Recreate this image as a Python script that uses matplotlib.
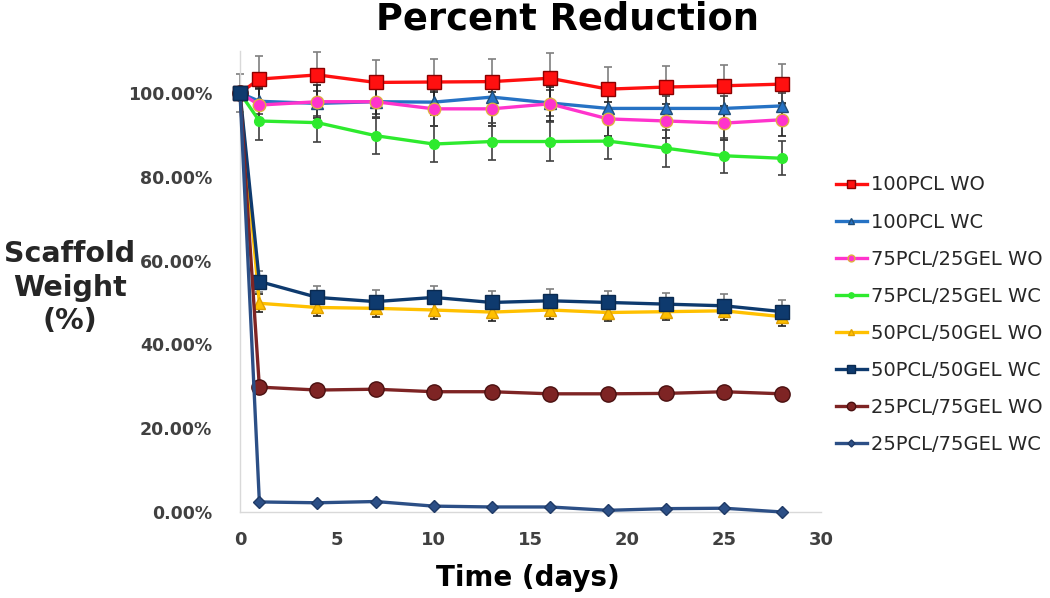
import matplotlib
matplotlib.use("Agg")
import matplotlib.pyplot as plt
import numpy as np

days = [0, 1, 4, 7, 10, 13, 16, 19, 22, 25, 28]

labels = ["100PCL WO", "100PCL WC", "75PCL/25GEL WO", "75PCL/25GEL WC",
          "50PCL/50GEL WO", "50PCL/50GEL WC", "25PCL/75GEL WO", "25PCL/75GEL WC"]

pcl100_wo = [100, 103.3, 104.3, 102.5, 102.6, 102.7, 103.5, 100.9, 101.4, 101.7, 102.1]
pcl100_wc = [100, 98.0, 97.5, 97.9, 97.8, 99.0, 97.6, 96.3, 96.3, 96.3, 96.9]
pcl75_wo = [100, 97.1, 97.9, 97.9, 96.2, 96.2, 97.4, 93.8, 93.3, 92.8, 93.6]
pcl75_wc = [100, 93.3, 92.9, 89.8, 87.8, 88.4, 88.4, 88.5, 86.8, 85.0, 84.4]
pcl50_wo = [100, 49.8, 48.8, 48.6, 48.2, 47.7, 48.2, 47.6, 47.8, 48.0, 46.6]
pcl50_wc = [100, 55.0, 51.2, 50.2, 51.2, 50.0, 50.4, 50.0, 49.6, 49.2, 47.8]
pcl25_wo = [100, 29.8, 29.1, 29.3, 28.7, 28.7, 28.2, 28.2, 28.3, 28.7, 28.2]
pcl25_wc = [100, 2.4, 2.2, 2.5, 1.4, 1.2, 1.2, 0.4, 0.8, 0.9, 0.0]

err_100_wo = [0.0, 5.5, 5.5, 5.4, 5.4, 5.4, 6.0, 5.2, 5.0, 5.0, 4.8]
err_100_wc = [0.0, 3.0, 3.0, 3.0, 3.0, 3.0, 3.0, 3.0, 3.0, 3.0, 3.0]
err_75_wo = [0.0, 4.0, 4.0, 4.0, 4.0, 4.0, 4.0, 4.0, 4.0, 4.0, 4.0]
err_75_wc = [0.0, 4.5, 4.7, 4.4, 4.4, 4.4, 4.6, 4.3, 4.4, 4.2, 4.1]
err_50_wo = [0.0, 2.1, 2.1, 2.1, 2.1, 2.1, 2.1, 2.1, 2.1, 2.1, 2.1]
err_50_wc = [4.5, 2.5, 2.7, 2.7, 2.7, 2.7, 2.7, 2.7, 2.7, 2.7, 2.7]

series = [pcl100_wo, pcl100_wc, pcl75_wo, pcl75_wc, pcl50_wo, pcl50_wc, pcl25_wo, pcl25_wc]
errors = [err_100_wo, err_100_wc, err_75_wo, err_75_wc, err_50_wo, err_50_wc, None, None]

colors = ["#FF1010", "#2672C4", "#FF33CC", "#2EEA2E", "#FFC000", "#0E3A6E", "#7E2424", "#2C4F86"]
markers = ["s", "^", "o", "o", "^", "s", "o", "D"]
msizes = [10, 9, 9, 7, 9, 10, 11, 6.5]
medges = ["#8B0000", "#1F4E79", "#E0B040", "#2EEA2E", "#E0A000", "#0A2A50", "#4A1010", "#1F3A66"]
ecolors = ["#7F7F7F", "#404040", "#202020", "#404040", "#202020", "#7F7F7F", "#000000", "#000000"]

fig = plt.figure(figsize=(10.5, 5.98), dpi=100)
ax = fig.add_axes([240 / 1050, (598 - 512) / 598, 581 / 1050, (512 - 51) / 598])
ax.set_xlim(0, 30)
ax.set_ylim(0, 110)

handles = []
for i, (vals, lab) in enumerate(zip(series, labels)):
    if errors[i] is not None:
        ax.errorbar(days, vals, yerr=errors[i], fmt="none", ecolor=ecolors[i],
                    elinewidth=1.2, capsize=3, capthick=1.2, zorder=2 + i * 0.1, clip_on=False)
    ln, = ax.plot(days, vals, color=colors[i], lw=2.4, marker=markers[i], ms=msizes[i],
                  markerfacecolor=colors[i], markeredgecolor=medges[i], markeredgewidth=1,
                  label=lab, zorder=3 + i * 0.1, clip_on=False)
    handles.append(ln)

# the 50PCL/50GEL WC start point sits on top at day 0
ax.plot(days[:1], pcl50_wc[:1], linestyle="none", marker="s", ms=10,
        markerfacecolor=colors[5], markeredgecolor=medges[5], zorder=10, clip_on=False)

for s in ["top", "right"]:
    ax.spines[s].set_visible(False)
ax.spines["left"].set_color("#D9D9D9")
ax.spines["bottom"].set_color("#D9D9D9")
ax.spines["left"].set_linewidth(1)
ax.spines["bottom"].set_linewidth(1)
ax.tick_params(length=0)

ax.set_xticks([0, 5, 10, 15, 20, 25, 30])
ax.set_xticklabels(["0", "5", "10", "15", "20", "25", "30"], fontsize=13, fontweight="bold", color="#404040")
ax.tick_params(axis="x", pad=14)
yt = [0, 20, 40, 60, 80, 100]
ax.set_yticks(yt)
ax.set_yticklabels([f"{v:.2f}%" for v in yt], fontsize=12.5, fontweight="bold", color="#404040")
ax.tick_params(axis="y", pad=20)

fig.text(567 / 1050, 1 - 19 / 598, "Percent Reduction", ha="center", va="center",
         fontsize=26.5, fontweight="bold", color="black")
fig.text(528 / 1050, 1 - 578 / 598, "Time (days)", ha="center", va="center",
         fontsize=20, fontweight="bold", color="black")
fig.text(70 / 1050, 1 - 288 / 598, "Scaffold\nWeight\n(%)", ha="center", va="center",
         fontsize=20.5, fontweight="bold", color="#262626", linespacing=1.25)

leg = fig.legend(handles=handles, loc="upper left", bbox_to_anchor=(818 / 1050, 1 - 158 / 598),
                 frameon=False, fontsize=14, handlelength=1.6, handletextpad=0.25,
                 labelspacing=0.93, markerscale=0.55, labelcolor="#262626")

fig.savefig("out.png", dpi=100)
